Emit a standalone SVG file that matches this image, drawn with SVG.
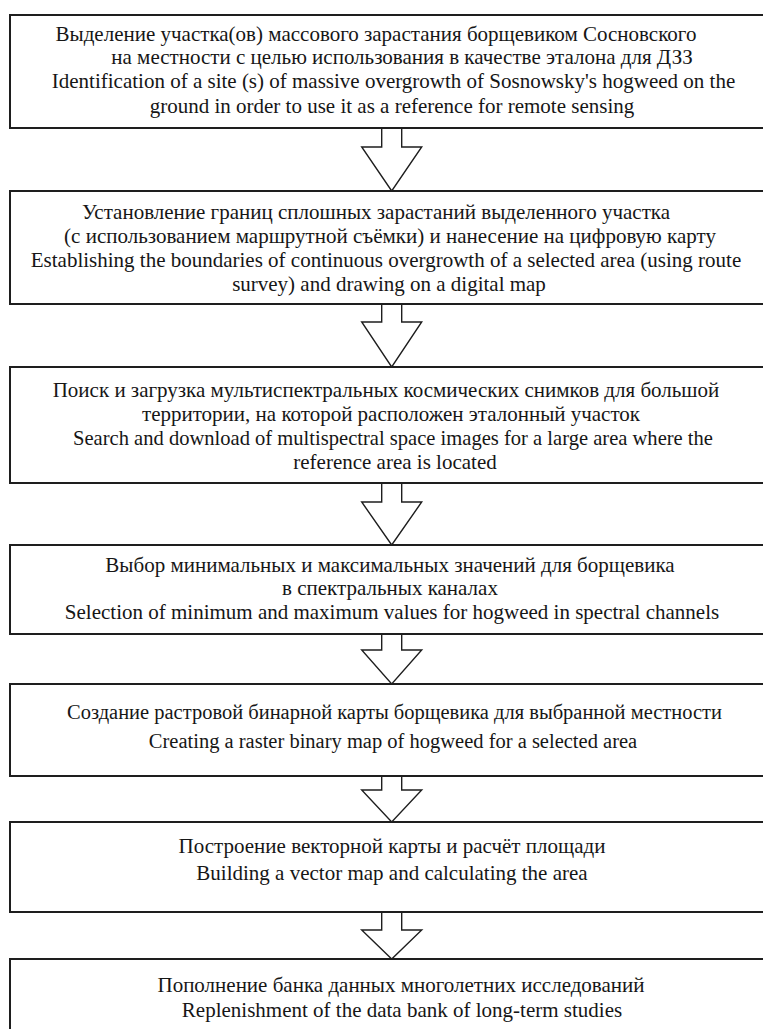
<svg xmlns="http://www.w3.org/2000/svg" width="763" height="1029" viewBox="0 0 763 1029">
<style>
.box{fill:#fff;stroke:#1e1e1e;stroke-width:2}
.arr{fill:#fff;stroke:#1e1e1e;stroke-width:1.4;stroke-linejoin:miter}
text{font-family:"Liberation Serif","Times New Roman",serif;font-size:21px;fill:#161616;text-anchor:middle}
.s{font-size:20.5px}
</style>
<rect width="763" height="1029" fill="#fff"/>
<g id="connectors">
<polyline class="arr" points="381.7,128 381.7,147 361.7,147 391.7,191 421.7,147 401.7,147 401.7,128"/>
<polyline class="arr" points="381.7,304 381.7,322 361.7,322 391.7,367 421.7,322 401.7,322 401.7,304"/>
<polyline class="arr" points="381.7,483 381.7,502 361.7,502 391.7,545 421.7,502 401.7,502 401.7,483"/>
<polyline class="arr" points="381.7,634 381.7,650 361.7,650 391.7,684 421.7,650 401.7,650 401.7,634"/>
<polyline class="arr" points="381.7,776 381.7,790 361.7,790 391.7,822 421.7,790 401.7,790 401.7,776"/>
<polyline class="arr" points="381.7,912 381.7,930 361.7,930 391.7,959 421.7,930 401.7,930 401.7,912"/>
</g>
<g id="node1">
<rect class="box" x="10" y="15" width="800" height="113"/>
<text x="376" y="41">Выделение участка(ов) массового зарастания борщевиком Сосновского</text>
<text x="402" y="64">на местности с целью использования в качестве эталона для ДЗЗ</text>
<text x="393.5" y="88">Identification of a site (s) of massive overgrowth of Sosnowsky's hogweed on the</text>
<text x="392" y="113">ground in order to use it as a reference for remote sensing</text>
</g>
<g id="node2">
<rect class="box" x="10" y="191" width="800" height="113"/>
<text x="376" y="219">Установление границ сплошных зарастаний выделенного участка</text>
<text x="390" y="243">(с использованием маршрутной съёмки) и нанесение на цифровую карту</text>
<text x="386" y="267">Establishing the boundaries of continuous overgrowth of a selected area (using route</text>
<text x="389" y="291">survey) and drawing on a digital map</text>
</g>
<g id="node3">
<rect class="box" x="10" y="367" width="800" height="116"/>
<text x="386" y="397">Поиск и загрузка мультиспектральных космических снимков для большой</text>
<text x="391" y="421">территории, на которой расположен эталонный участок</text>
<text x="393" y="445" textLength="640" lengthAdjust="spacingAndGlyphs">Search and download of multispectral space images for a large area where the</text>
<text x="395" y="469">reference area is located</text>
</g>
<g id="node4">
<rect class="box" x="10" y="545" width="800" height="89"/>
<text x="390" y="572">Выбор минимальных и максимальных значений для борщевика</text>
<text x="390" y="595">в спектральных каналах</text>
<text x="392" y="619">Selection of minimum and maximum values for hogweed in spectral channels</text>
</g>
<g id="node5">
<rect class="box" x="10" y="684" width="800" height="92"/>
<text class="s" x="394.5" y="719" textLength="655" lengthAdjust="spacingAndGlyphs">Создание растровой бинарной карты борщевика для выбранной местности</text>
<text class="s" x="393" y="748">Creating a raster binary map of hogweed for a selected area</text>
</g>
<g id="node6">
<rect class="box" x="10" y="822" width="800" height="90"/>
<text x="392" y="853">Построение векторной карты и расчёт площади</text>
<text x="392" y="880">Building a vector map and calculating the area</text>
</g>
<g id="node7">
<rect class="box" x="10" y="959" width="800" height="120"/>
<text x="401" y="992">Пополнение банка данных многолетних исследований</text>
<text x="402" y="1017">Replenishment of the data bank of long-term studies</text>
</g>
</svg>
